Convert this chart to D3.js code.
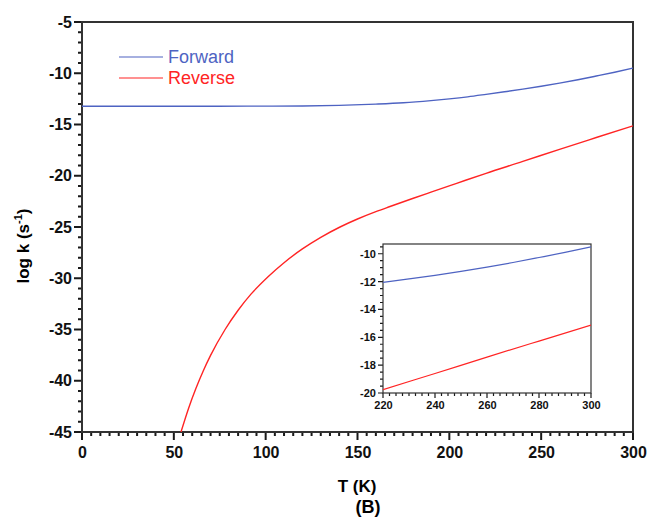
<!DOCTYPE html>
<html>
<head>
<meta charset="utf-8">
<script src="https://cdn.jsdelivr.net/npm/d3@7"></script>
<style>
  body { margin: 0; background: #fff; }
  text { font-family: "Liberation Sans", Arial, sans-serif; }
</style>
</head>
<body>
<div id="chart-area"></div>
<script>
// data
const tempForward = [0, 30, 60, 90, 120, 140, 160, 175, 190, 200, 210, 220, 230, 240, 250, 260, 270, 280, 290, 300]
const logkForward = [-13.22, -13.22, -13.22, -13.21, -13.19, -13.13, -13.01, -12.88, -12.67, -12.5, -12.3, -12.06, -11.81, -11.55, -11.27, -10.96, -10.63, -10.27, -9.9, -9.5]
const tempReverse = [53.9, 58, 62, 66, 70, 77.9, 85, 92, 101.3, 110, 120, 130, 140.5, 150, 160, 167.7, 180, 190, 204, 220, 240, 260, 280, 300]
const logkReverse = [-45, -42.7, -40.76, -39.05, -37.53, -35, -33.12, -31.55, -29.85, -28.48, -27.14, -26.01, -25, -24.22, -23.5, -23, -22.22, -21.6, -20.74, -19.76, -18.6, -17.42, -16.27, -15.13]
const seriesNames = ["Forward", "Reverse"]
const seriesColors = ["#4e63c2", "#ff2424"]

const xTicks = [0, 50, 100, 150, 200, 250, 300]
const yTicks = [-5, -10, -15, -20, -25, -30, -35, -40, -45]
const insetXTicks = [220, 240, 260, 280, 300]
const insetYTicks = [-10, -12, -14, -16, -18, -20]

const W = 648, H = 525
const MARGIN = { LEFT: 82, RIGHT: 15, TOP: 22, BOTTOM: 93 }
const WIDTH = W - MARGIN.LEFT - MARGIN.RIGHT
const HEIGHT = H - MARGIN.TOP - MARGIN.BOTTOM

const fwd = tempForward.map((t, i) => ({ t, v: logkForward[i] }))
const rev = tempReverse.map((t, i) => ({ t, v: logkReverse[i] }))

const svg = d3.select("#chart-area").append("svg")
  .attr("width", W)
  .attr("height", H)

const g = svg.append("g")
  .attr("transform", `translate(${MARGIN.LEFT}, ${MARGIN.TOP})`)

const x = d3.scaleLinear().domain([0, 300]).range([0, WIDTH])
const y = d3.scaleLinear().domain([-45, -5]).range([HEIGHT, 0])

const defs = svg.append("defs")
defs.append("clipPath").attr("id", "clip-main")
  .append("rect").attr("width", WIDTH).attr("height", HEIGHT)

function drawAxes(sel, xs, ys, w, h, xt, yt, xMinor, yMinor, opts) {
  // tick marks as one path per axis, placed with the scales
  const xPath = xMinor.concat(xt)
    .map(d => `M${xs(d)},${h}v${xt.includes(d) ? opts.major : opts.minor}`).join("")
  const yPath = yMinor.concat(yt)
    .map(d => `M0,${ys(d)}h${-(yt.includes(d) ? opts.major : opts.minor)}`).join("")
  sel.append("path").attr("d", xPath + yPath)
    .attr("fill", "none").attr("stroke", "#1a1a1a").attr("stroke-width", opts.tw)

  // labels from the axis generators
  const xa = sel.append("g")
    .attr("transform", `translate(0, ${h})`)
    .call(d3.axisBottom(xs).tickValues(xt).tickSize(opts.major).tickPadding(opts.padX).tickFormat(d => d.toString()))
  const ya = sel.append("g")
    .call(d3.axisLeft(ys).tickValues(yt).tickSize(opts.major).tickPadding(opts.padY).tickFormat(d => d.toString()))
  ;[xa, ya].forEach(a => {
    a.select(".domain").remove()
    a.selectAll(".tick line").remove()
    a.selectAll("text")
      .attr("fill", "#111")
      .style("font-size", opts.font + "px")
      .style("font-weight", "bold")
  })
  // frame
  sel.append("rect")
    .attr("width", w).attr("height", h)
    .attr("fill", "none").attr("stroke", "#333").attr("stroke-width", opts.frame)
}

drawAxes(g, x, y, WIDTH, HEIGHT, xTicks, yTicks,
  d3.range(0, 301, 5), d3.range(-45, -4, 1),
  { major: 8, minor: 4, padX: 7, padY: 2, font: 16, tw: 2, frame: 2 })

const line = d3.line()
  .x(d => x(d.t))
  .y(d => y(d.v))
  .curve(d3.curveMonotoneX)

const plot = g.append("g").attr("clip-path", "url(#clip-main)")
plot.append("path").attr("d", line(fwd))
  .attr("fill", "none").attr("stroke", seriesColors[0]).attr("stroke-width", 1.4)
plot.append("path").attr("d", line(rev))
  .attr("fill", "none").attr("stroke", seriesColors[1]).attr("stroke-width", 1.4)

// legend
const legend = g.append("g").attr("transform", "translate(37, 35)")
seriesNames.forEach((name, i) => {
  const row = legend.append("g").attr("transform", `translate(0, ${i * 21})`)
  row.append("line").attr("x1", 0).attr("x2", 44)
    .attr("stroke", seriesColors[i]).attr("stroke-width", 1.2)
  row.append("text").attr("x", 49).attr("y", 5.5)
    .attr("fill", seriesColors[i])
    .style("font-size", "18px")
    .text(name)
})

// axis titles
const yTitle = svg.append("text")
  .attr("transform", "translate(29, 246) rotate(-90)")
  .attr("text-anchor", "middle")
  .style("font-size", "17px").style("font-weight", "bold")
yTitle.append("tspan").text("log k (s")
yTitle.append("tspan").attr("dy", -7).style("font-size", "11px").text("-1")
yTitle.append("tspan").attr("dy", 7).text(")")

svg.append("text")
  .attr("x", 357).attr("y", 492)
  .attr("text-anchor", "middle")
  .style("font-size", "17px").style("font-weight", "bold")
  .text("T (K)")

svg.append("text")
  .attr("x", 368).attr("y", 513)
  .attr("text-anchor", "middle")
  .style("font-size", "18px").style("font-weight", "bold")
  .text("(B)")

// inset
const INSET = { X: 383, Y: 244, W: 208, H: 149 }
const gi = svg.append("g").attr("transform", `translate(${INSET.X}, ${INSET.Y})`)
gi.append("rect").attr("width", INSET.W).attr("height", INSET.H).attr("fill", "#fff")
const xi = d3.scaleLinear().domain([220, 300]).range([0, INSET.W])
const yi = d3.scaleLinear().domain([-20, -9.3]).range([INSET.H, 0])

defs.append("clipPath").attr("id", "clip-inset")
  .append("rect").attr("width", INSET.W).attr("height", INSET.H)

drawAxes(gi, xi, yi, INSET.W, INSET.H, insetXTicks, insetYTicks,
  d3.range(220, 300.1, 2.5), d3.range(-20, -9.4, 0.5),
  { major: 5, minor: 3, padX: 3, padY: 2, font: 11, tw: 1.2, frame: 1.2 })

const linei = d3.line()
  .x(d => xi(d.t))
  .y(d => yi(d.v))
  .curve(d3.curveMonotoneX)

const inPlot = gi.append("g").attr("clip-path", "url(#clip-inset)")
inPlot.append("path").attr("d", linei(fwd.filter(d => d.t >= 210)))
  .attr("fill", "none").attr("stroke", seriesColors[0]).attr("stroke-width", 1.2)
inPlot.append("path").attr("d", linei(rev.filter(d => d.t >= 200)))
  .attr("fill", "none").attr("stroke", seriesColors[1]).attr("stroke-width", 1.2)
</script>
</body>
</html>
